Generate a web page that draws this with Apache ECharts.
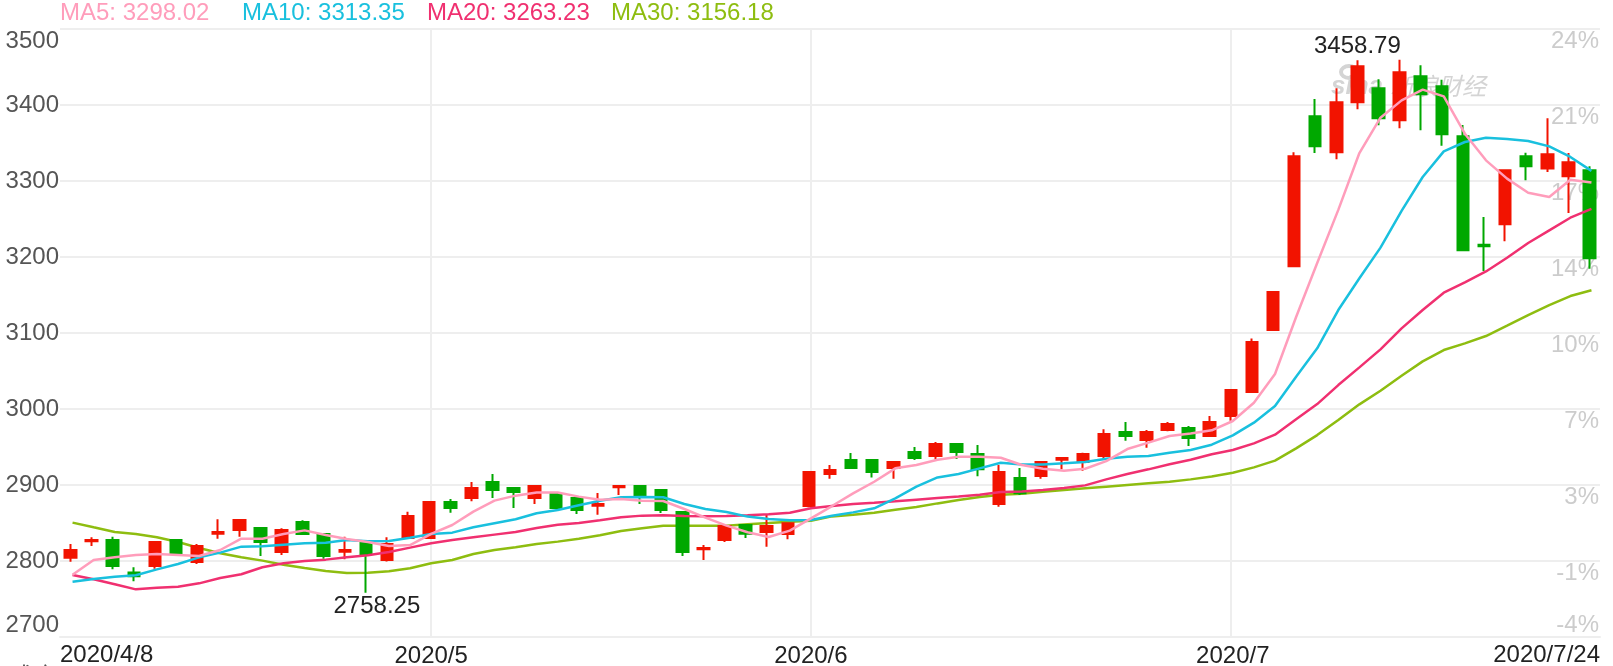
<!DOCTYPE html>
<html>
<head>
<meta charset="utf-8">
<style>
html, body { margin: 0; padding: 0; background: #fff; overflow: hidden; }
#main { width: 1613px; height: 666px; }
</style>
<script src="https://cdn.jsdelivr.net/npm/echarts@6/dist/echarts.min.js"></script>
</head>
<body>
<div id="main"></div>
<script>
var days = [
    '2020/4/8', '2020/4/9', '2020/4/10', '2020/4/13', '2020/4/14', '2020/4/15', '2020/4/16', '2020/4/17',
    '2020/4/20', '2020/4/21', '2020/4/22', '2020/4/23', '2020/4/24', '2020/4/27', '2020/4/28', '2020/4/29', '2020/4/30',
    '2020/5/6', '2020/5/7', '2020/5/8', '2020/5/11', '2020/5/12', '2020/5/13', '2020/5/14', '2020/5/15',
    '2020/5/18', '2020/5/19', '2020/5/20', '2020/5/21', '2020/5/22', '2020/5/25', '2020/5/26', '2020/5/27', '2020/5/28', '2020/5/29',
    '2020/6/1', '2020/6/2', '2020/6/3', '2020/6/4', '2020/6/5', '2020/6/8', '2020/6/9', '2020/6/10', '2020/6/11', '2020/6/12',
    '2020/6/15', '2020/6/16', '2020/6/17', '2020/6/18', '2020/6/19', '2020/6/22', '2020/6/23', '2020/6/24', '2020/6/29', '2020/6/30',
    '2020/7/1', '2020/7/2', '2020/7/3', '2020/7/6', '2020/7/7', '2020/7/8', '2020/7/9', '2020/7/10',
    '2020/7/13', '2020/7/14', '2020/7/15', '2020/7/16', '2020/7/17', '2020/7/20', '2020/7/21', '2020/7/22', '2020/7/23', '2020/7/24'
];

// open, close, low, high
var kline = [
    [2804.4, 2814.5, 2799.1, 2822.4], [2825.9, 2827.6, 2819.7, 2831.1], [2827.6, 2793.4, 2789, 2832], [2785, 2780, 2773.3, 2791.7],
    [2793.4, 2825, 2789.9, 2825.9], [2827.6, 2809.2, 2808.3, 2829], [2798.7, 2819.7, 2796, 2822.4], [2836, 2838, 2829.4, 2854.8],
    [2840.8, 2853.9, 2832, 2853.9], [2843.4, 2825, 2806.6, 2843.4], [2811.8, 2840.8, 2807.9, 2843], [2851.3, 2835.5, 2834.2, 2853.5],
    [2835.5, 2806.6, 2803, 2835.5], [2812.3, 2814.5, 2802.2, 2832], [2825, 2809.2, 2758.25, 2825], [2801.3, 2822.4, 2799.5, 2831.1],
    [2830.3, 2859.2, 2829.4, 2864.9], [2830.3, 2877.7, 2829.4, 2878.5], [2877.7, 2869.8, 2863.6, 2881.6], [2882.9, 2896.1, 2878.5, 2904],
    [2904, 2893.5, 2882.9, 2914.5], [2896.1, 2890.8, 2869.8, 2897.4], [2882.9, 2898.7, 2875, 2900], [2888.2, 2869.8, 2869.8, 2889],
    [2882.9, 2867.1, 2861.9, 2882.9], [2872.8, 2875, 2861, 2889.5], [2897, 2898.7, 2886.9, 2900], [2898.7, 2885.6, 2875, 2898.7],
    [2893.5, 2867.1, 2863.2, 2893.5], [2864.5, 2811.9, 2806.6, 2864.5], [2815.4, 2817.1, 2801.3, 2821], [2827.7, 2846, 2825, 2847.4],
    [2847.4, 2836, 2830.3, 2847.4], [2838.2, 2846, 2818.9, 2861.9], [2835.6, 2849.6, 2828.5, 2849.6], [2872.3, 2917, 2870.6, 2917],
    [2914.4, 2919.7, 2908.3, 2926.3], [2932.8, 2922.3, 2921, 2942], [2932.8, 2917, 2910, 2932.8], [2922.3, 2930.2, 2908.3, 2930.2],
    [2943.4, 2935.5, 2932.8, 2950], [2938.1, 2953.9, 2933.7, 2956.5], [2953.9, 2943.4, 2934.2, 2953.9], [2940.7, 2920.6, 2911.4, 2952.6],
    [2875, 2917, 2871.5, 2926.3], [2909.2, 2889, 2886.8, 2922.3], [2911.8, 2930.2, 2908.3, 2931.1], [2933.3, 2935.5, 2920.6, 2936.4],
    [2930.2, 2940.7, 2918.8, 2942.5], [2938.1, 2967, 2933.7, 2973.2], [2969.7, 2964.4, 2958.3, 2982.8], [2959.2, 2969.7, 2949, 2972.3],
    [2972.3, 2980.2, 2970.6, 2982.8], [2975, 2961.8, 2951.3, 2977.6], [2964.4, 2982.8, 2964.4, 2990.7], [2990.7, 3025, 2984.6, 3026.3],
    [3022.3, 3088.1, 3021, 3092.9], [3103.9, 3153.9, 3103.9, 3153.9], [3187.7, 3332.5, 3187.7, 3337.7], [3385.1, 3345.6, 3336.8, 3407.9],
    [3337.7, 3403.5, 3328.5, 3421.9], [3403.5, 3450.9, 3394.3, 3458.79], [3421.9, 3382.5, 3373.2, 3433.8], [3379.8, 3443, 3369.3, 3459.6],
    [3437.7, 3414, 3366.7, 3452.2], [3424.6, 3361.4, 3346.5, 3433.3], [3358.8, 3208.8, 3208.8, 3373.7], [3216.2, 3214, 3181.6, 3252.6],
    [3243, 3314, 3220.6, 3314], [3332.5, 3319.3, 3300.9, 3337.3], [3316.6, 3335.1, 3311.8, 3382.5], [3306.1, 3324.6, 3257.9, 3336.8],
    [3314, 3198.2, 3184.7, 3319.3]
];

var ma5 = [
    2782, 2801.3, 2804.8, 2807.9, 2809.2, 2807.9, 2806.6, 2814.5, 2829.4, 2829.4, 2835.5, 2840.3, 2834.2, 2829, 2825, 2819.7, 2821, 2835.6,
    2847.4, 2864.9, 2879.4, 2886, 2890, 2890, 2884.7, 2880.7, 2881.6, 2879.4, 2879, 2868.4, 2857, 2846.5, 2837.8, 2831.6, 2840, 2856,
    2872.3, 2889, 2904.3, 2921.9, 2926.3, 2933.3, 2937.2, 2937.2, 2935.9, 2926.3, 2921.4, 2918.8, 2921.4, 2931.5, 2947.3, 2955.7, 2964.4, 2967.9, 2972,
    2984.2, 3008.3, 3046, 3121, 3192, 3262, 3336.8, 3383.3, 3406.1, 3420.2, 3411.4, 3362.3, 3327.2, 3303.1, 3284.6, 3278.9, 3301.6, 3298.02
];
var ma10 = [
    2772.8, 2776.3, 2779.4, 2781.2, 2789, 2796, 2804.8, 2811, 2818.9, 2819.3, 2821.5, 2823.3, 2824.1, 2827.7, 2825.9, 2826.3, 2830.7, 2835.6,
    2837.3, 2844.3, 2849.6, 2854.9, 2862.8, 2867.1, 2873.3, 2879.4, 2883.8, 2884.2, 2883.8, 2875, 2868.4, 2864.5, 2858.4, 2855.3, 2853.5, 2853.9,
    2859.6, 2864, 2869.3, 2882.4, 2897.8, 2910, 2914.4, 2921.9, 2929.3, 2927.1, 2927.1, 2928.5, 2930.2, 2934.6, 2937.2, 2938.1, 2942.5, 2946, 2953,
    2965.3, 2982, 3003.9, 3042.5, 3079.8, 3130.2, 3172, 3212.3, 3260.6, 3305.3, 3339, 3351.3, 3357, 3355.3, 3352.6, 3345.6, 3331.6, 3313.35
];
var ma20 = [
    2781.6, 2775.9, 2769.3, 2762.7, 2764.9, 2766.2, 2770.6, 2777.6, 2782.5, 2791.7, 2797, 2800, 2801.8, 2804.8, 2807.5, 2811.9, 2817.6, 2823.3,
    2827.7, 2831.2, 2834.7, 2838.2, 2843.5, 2847.8, 2850, 2853.5, 2857.5, 2859.7, 2860.1, 2859.2, 2858.8, 2859.2, 2860.1, 2861.4, 2863.6, 2869.3,
    2872.3, 2875, 2876.7, 2878.5, 2880.7, 2882.9, 2885, 2887.2, 2890.7, 2891.6, 2893.4, 2896, 2899.5, 2907.4, 2914.4, 2920.6, 2927.2, 2933.3, 2940.5,
    2946, 2954.8, 2966.2, 2986.4, 3006.5, 3031.5, 3054.8, 3078.5, 3106.1, 3130.2, 3153, 3166.6, 3181, 3199.1, 3218.4, 3235.1, 3251.7, 3263.23
];
var ma30 = [
    2850.5, 2844.3, 2838.2, 2835.5, 2831.2, 2825, 2817.1, 2810.1, 2804.8, 2800.5, 2795.2, 2790.8, 2786.9, 2784.2, 2784.7, 2786.4, 2790.4, 2797,
    2801.3, 2809.2, 2814.5, 2818, 2822.4, 2825.5, 2829.4, 2833.8, 2839.5, 2843, 2846.5, 2846.5, 2846.5, 2846.5, 2848.3, 2850, 2851.8, 2853,
    2858.7, 2860.9, 2863.6, 2867.5, 2871, 2875.8, 2880.2, 2884.2, 2887.2, 2888.6, 2891.2, 2893.4, 2895.6, 2897.8, 2900, 2902.2, 2904.3, 2907.4, 2911.3,
    2916.2, 2923.2, 2932, 2948.2, 2965.7, 2985.5, 3006.1, 3024, 3043.8, 3062.7, 3077.6, 3086.4, 3096, 3109.6, 3123.6, 3136.8, 3148.6, 3156.18
];

var maNames = ['MA5', 'MA10', 'MA20', 'MA30'];
var maColors = ['#ff9dbb', '#19c0de', '#f03070', '#8ebd10'];
var maLegendX = [60, 242, 427, 611];
var maLists = [ma5, ma10, ma20, ma30];

var monthIdx = { 17: '2020/5', 35: '2020/6', 55: '2020/7' };
var pctLabels = ['-4%', '-1%', '3%', '7%', '10%', '14%', '17%', '21%', '24%'];
var FONT = '"Liberation Sans", Arial, sans-serif';

var myChart = echarts.init(document.getElementById('main'));

function lineSeries(i) {
    return {
        type: 'line',
        name: maNames[i],
        xAxisIndex: 1,
        yAxisIndex: 2,
        data: maLists[i],
        showSymbol: false,
        symbol: 'none',
        lineStyle: { color: maColors[i], width: 2.5 },
        z: 5 - i
    };
}

var legendTexts = maNames.map(function (name, i) {
    return {
        type: 'text',
        x: maLegendX[i],
        y: 13,
        style: {
            text: name + ': ' + maLists[i][maLists[i].length - 1].toFixed(2),
            fill: maColors[i],
            font: '24px ' + FONT,
            verticalAlign: 'middle'
        }
    };
});

var option = {
    animation: false,
    backgroundColor: '#fff',
    grid: [
        { left: 60, right: 13, top: 29, bottom: 29, outerBoundsMode: 'none' },
        { left: 62, right: 11, top: 29, bottom: 29, outerBoundsMode: 'none' }
    ],
    xAxis: [
        {
            type: 'category',
            data: days,
            gridIndex: 0,
            axisLine: { lineStyle: { color: '#eee', width: 2 } },
            axisTick: { show: false },
            axisLabel: { show: false },
            splitLine: {
                show: true,
                alignWithLabel: true,
                interval: function (i) { return i === 55; },
                lineStyle: { color: '#eee', width: 2 }
            }
        },
        {
            type: 'category',
            data: days,
            gridIndex: 1,
            axisLine: { show: false },
            axisTick: { show: false },
            axisLabel: {
                interval: function (i) { return monthIdx[i] !== undefined; },
                formatter: function (v, i) { return monthIdx[i]; },
                color: '#222',
                fontSize: 24,
                fontFamily: FONT,
                margin: 7,
                hideOverlap: false
            },
            splitLine: {
                show: true,
                alignWithLabel: true,
                interval: function (i) { return i === 17 || i === 35; },
                lineStyle: { color: '#eee', width: 2 }
            }
        }
    ],
    yAxis: [
        {
            type: 'value',
            gridIndex: 0,
            min: 2700,
            max: 3500,
            interval: 100,
            axisLine: { show: false },
            axisTick: { show: false },
            axisLabel: {
                formatter: function (v) { return String(v); },
                color: '#555',
                fontSize: 24,
                fontFamily: FONT,
                margin: 1,
                verticalAlignMinLabel: 'bottom',
                verticalAlignMaxLabel: 'top'
            },
            splitLine: { lineStyle: { color: '#eee', width: 2 } }
        },
        {
            type: 'value',
            gridIndex: 0,
            position: 'right',
            min: 2700,
            max: 3500,
            interval: 100,
            axisLine: { show: false },
            axisTick: { show: false },
            splitLine: { show: false },
            axisLabel: {
                inside: true,
                margin: 1,
                formatter: function (v) { return pctLabels[(v - 2700) / 100]; },
                color: '#ccc',
                fontSize: 24,
                fontFamily: FONT,
                verticalAlign: 'top',
                verticalAlignMinLabel: 'bottom',
                verticalAlignMaxLabel: 'top'
            }
        },
        {
            type: 'value',
            gridIndex: 1,
            min: 2700,
            max: 3500,
            interval: 100,
            axisLine: { show: false },
            axisTick: { show: false },
            axisLabel: { show: false },
            splitLine: { show: false }
        }
    ],
    graphic: legendTexts.concat([
        {
            type: 'text', x: 60, y: 655,
            style: { text: days[0], fill: '#222', font: '24px ' + FONT, verticalAlign: 'middle' }
        },
        {
            type: 'text', x: 1600, y: 655,
            style: { text: days[days.length - 1], fill: '#222', font: '24px ' + FONT, align: 'right', verticalAlign: 'middle' }
        },
        {
            type: 'text', x: 10, y: 664,
            style: { text: '成交', fill: '#555', font: '24px "Noto Sans CJK SC"', verticalAlign: 'top' }
        },
        {
            type: 'ellipse', z: -1,
            shape: { cx: 1349, cy: 72, rx: 8, ry: 6 },
            style: { fill: 'none', stroke: '#d4d4d4', lineWidth: 4 }
        },
        {
            type: 'text', x: 1331, y: 87, z: -1,
            style: { text: 'sina', fill: '#d4d4d4', font: 'italic bold 26px ' + FONT, verticalAlign: 'middle' }
        },
        {
            type: 'text', x: 1390, y: 86, z: -1,
            style: { text: '新浪财经', fill: '#d4d4d4', font: 'italic 24px "Noto Sans CJK SC"', verticalAlign: 'middle' }
        }
    ]),
    series: [
        {
            type: 'candlestick',
            xAxisIndex: 0,
            yAxisIndex: 0,
            data: kline,
            barWidth: 12,
            itemStyle: {
                color: '#f21300',
                color0: '#00a800',
                borderColor: '#f21300',
                borderColor0: '#00a800',
                borderWidth: 2
            },
            markPoint: {
                symbol: 'circle',
                symbolSize: 0,
                silent: true,
                data: [
                    {
                        coord: [days[61], 3458.79],
                        value: '3458.79',
                        label: { show: true, position: 'top', distance: 2, color: '#222', fontSize: 24, fontFamily: FONT, formatter: '{c}' }
                    },
                    {
                        coord: [days[14], 2758.25],
                        value: '2758.25',
                        label: { show: true, position: 'bottom', distance: 2, offset: [11, 0], color: '#222', fontSize: 24, fontFamily: FONT, formatter: '{c}' }
                    }
                ]
            }
        },
        lineSeries(0),
        lineSeries(1),
        lineSeries(2),
        lineSeries(3)
    ]
};
myChart.setOption(option);
</script>
</body>
</html>
